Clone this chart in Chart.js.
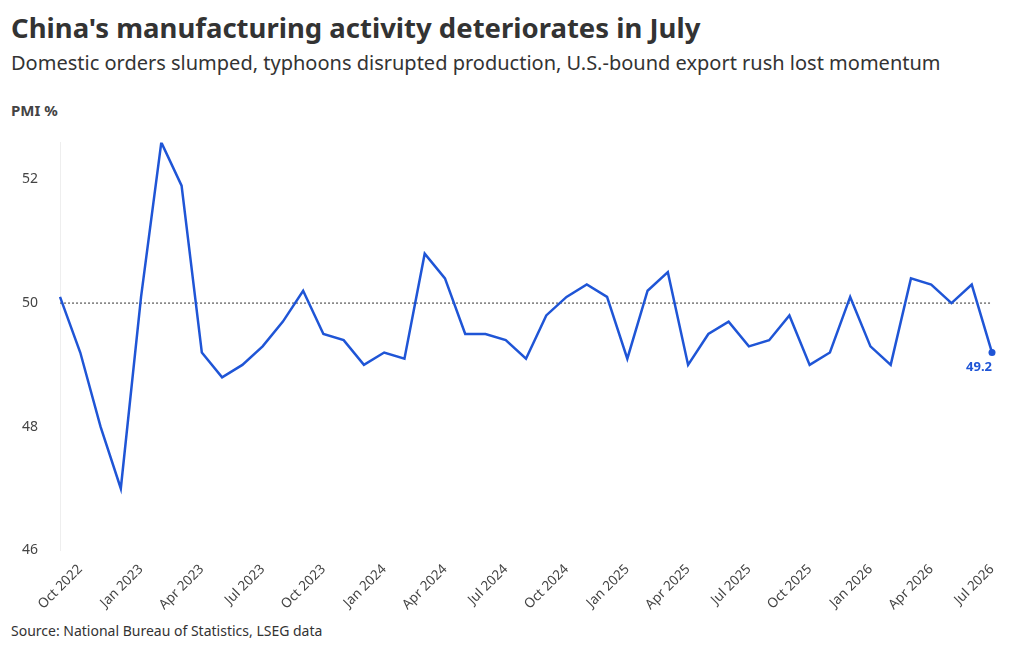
<!DOCTYPE html>
<html>
<head>
<meta charset="utf-8">
<script src="https://cdn.jsdelivr.net/npm/chart.js@4"></script>
<style>
  body { margin: 0; background: #fff; font-family: "Noto Sans", sans-serif; color: #333; }
  h1 { position: absolute; left: 11px; top: 9px; margin: 0; font-size: 27.5px; font-weight: 700; color: #333; }
  h2 { position: absolute; left: 11px; top: 49px; margin: 0; font-size: 20px; font-weight: 400; color: #333; }
  .unit { position: absolute; left: 11px; top: 100px; font-size: 15px; font-weight: 700; color: #444; }
  .source { position: absolute; left: 11px; top: 621px; font-size: 14px; color: #333; }
  #wrap { position: absolute; left: 0; top: 120px; width: 1010px; height: 496px; }
</style>
</head>
<body>
<h1>China's manufacturing activity deteriorates in July</h1>
<h2>Domestic orders slumped, typhoons disrupted production, U.S.-bound export rush lost momentum</h2>
<div class="unit">PMI %</div>
<div id="wrap"><canvas id="pmiChart"></canvas></div>
<div class="source">Source: National Bureau of Statistics, LSEG data</div>
<script>
const monthNames = ["Jan", "Feb", "Mar", "Apr", "May", "Jun", "Jul", "Aug", "Sep", "Oct", "Nov", "Dec"];
const startYear = 2022, startMonth = 8; // Sep 2022

const pmiValues = [
  50.1, 49.2, 48.0, 47.0, 50.1, 52.6, 51.9, 49.2, 48.8, 49.0, 49.3, 49.7,
  50.2, 49.5, 49.4, 49.0, 49.2, 49.1, 50.8, 50.4, 49.5, 49.5, 49.4, 49.1,
  49.8, 50.1, 50.3, 50.1, 49.1, 50.2, 50.5, 49.0, 49.5, 49.7, 49.3, 49.4,
  49.8, 49.0, 49.2, 50.1, 49.3, 49.0, 50.4, 50.3, 50.0, 50.3, 49.2
];
const months = pmiValues.map((v, i) => {
  const m = startMonth + i;
  return monthNames[m % 12] + " " + (startYear + Math.floor(m / 12));
});
const yTicks = [46, 48, 50, 52];
const refValue = 50;

// dotted 50 line and last value label
const extras = {
  id: "extras",
  beforeDatasetsDraw(chart) {
    const { ctx, chartArea, scales } = chart;
    const y = scales.y.getPixelForValue(refValue);
    ctx.save();
    ctx.strokeStyle = "#555";
    ctx.lineWidth = 1.2;
    ctx.setLineDash([2, 2]);
    ctx.beginPath();
    ctx.moveTo(chartArea.left, y);
    ctx.lineTo(chartArea.right, y);
    ctx.stroke();
    ctx.restore();
  },
  afterDatasetsDraw(chart) {
    const { ctx } = chart;
    const pts = chart.getDatasetMeta(0).data;
    const last = pts[pts.length - 1];
    ctx.save();
    ctx.fillStyle = "#1f55d6";
    ctx.beginPath();
    ctx.arc(last.x, last.y, 3.5, 0, Math.PI * 2);
    ctx.fill();
    ctx.font = "bold 13px 'Noto Sans'";
    ctx.textAlign = "right";
    ctx.fillText(pmiValues[pmiValues.length - 1].toFixed(1), last.x, last.y + 18);
    ctx.restore();
  }
};

const pmiCtx = document.getElementById("pmiChart").getContext("2d");
const pmiChart = new Chart(pmiCtx, {
  type: "line",
  data: {
    labels: months,
    datasets: [
      {
        data: pmiValues,
        borderColor: "#1f55d6",
        borderWidth: 2.5,
        pointRadius: 0,
        tension: 0,
      },
    ],
  },
  options: {
    responsive: true,
    maintainAspectRatio: false,
    animation: false,
    layout: { padding: { left: 8, right: 18, top: 2 } },
    scales: {
      x: {
        offset: false,
        grid: { display: false },
        border: { display: false },
        ticks: {
          autoSkip: false,
          maxRotation: 45,
          minRotation: 45,
          color: "#444",
          font: { size: 13.5, family: "Noto Sans" },
          callback: (val, i) => (i % 3 === 1 ? months[i] : null),
        },
      },
      y: {
        min: 46,
        max: 52.6,
        afterBuildTicks: (axis) => { axis.ticks = yTicks.map((v) => ({ value: v })); },
        grid: { display: false },
        border: { display: true, color: "#eee" },
        ticks: { color: "#444", padding: 14, font: { size: 14, family: "Noto Sans" } },
      },
    },
    plugins: {
      legend: { display: false },
      tooltip: { enabled: false },
    },
  },
  plugins: [extras],
});
</script>
</body>
</html>
